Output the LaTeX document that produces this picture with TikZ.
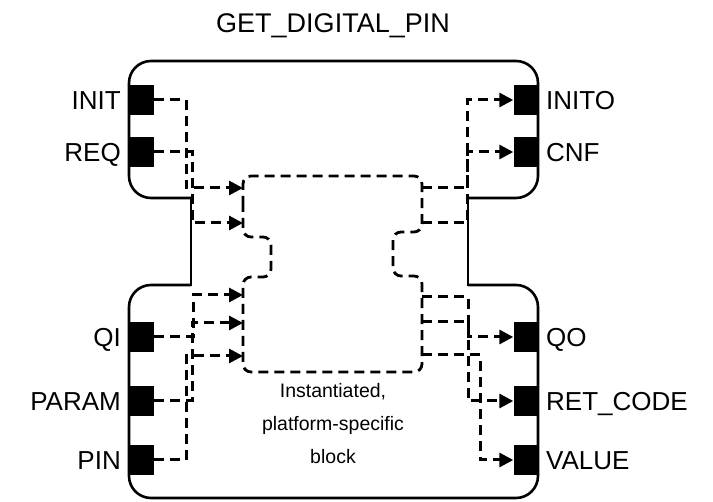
\documentclass[tikz,border=0pt]{standalone}
\usepackage{fontspec}
\setmainfont{Liberation Sans}
\usetikzlibrary{arrows.meta}
\begin{document}
\begin{tikzpicture}[x=1pt,y=-1pt,
  frame/.style={line width=2.6pt,rounded corners=22pt},
  portbox/.style={fill=black,draw=none,minimum width=24pt,minimum height=30pt,inner sep=0pt},
  lbl/.style={font=\fontsize{26}{30}\selectfont,inner sep=0pt},
  sig/.style={line width=3pt,dash pattern=on 10pt off 6pt},
  sigarrow/.style={sig,-{Triangle[length=14pt,width=14pt]}},
  inner/.style={line width=2.8pt,dash pattern=on 10pt off 6pt,rounded corners=8pt},
]
\useasboundingbox (0,0) rectangle (713,502);

% title
\node[lbl,font=\fontsize{27}{30}\selectfont,anchor=base] (title) at (333,33) {GET\_DIGITAL\_PIN};

% function block outline: upper and lower parts joined by a neck
\draw[frame] (191,198) -- (129,198) -- (129,61) -- (538,61) -- (538,198) -- (468,198);
\draw[frame] (191,285) -- (129,285) -- (129,498) -- (538,498) -- (538,285) -- (468,285);
\draw[line width=2.6pt] (191,196.7) -- (191,286.3);
\draw[line width=2.6pt] (468,196.7) -- (468,286.3);

% input ports
\node[portbox] (pINIT)  at (142,100) {};
\node[portbox] (pREQ)   at (142,152) {};
\node[portbox] (pQI)    at (142,337) {};
\node[portbox] (pPARAM) at (142,401) {};
\node[portbox] (pPIN)   at (142,460) {};
% output ports
\node[portbox] (pINITO) at (525.5,100) {};
\node[portbox] (pCNF)   at (525.5,152) {};
\node[portbox] (pQO)    at (525.5,337) {};
\node[portbox] (pRET)   at (525.5,401) {};
\node[portbox] (pVALUE) at (525.5,460) {};

% port labels
\node[lbl,anchor=base east] (lINIT)  at (121,110) {INIT};
\node[lbl,anchor=base east] (lREQ)   at (121,162) {REQ};
\node[lbl,anchor=base east] (lQI)    at (121,347) {QI};
\node[lbl,anchor=base east] (lPARAM) at (121,411) {PARAM};
\node[lbl,anchor=base east] (lPIN)   at (121,470) {PIN};
\node[lbl,anchor=base west] (lINITO) at (546,110) {INITO};
\node[lbl,anchor=base west] (lCNF)   at (546,162) {CNF};
\node[lbl,anchor=base west] (lQO)    at (546,347) {QO};
\node[lbl,anchor=base west] (lRET)   at (546,411) {RET\_CODE};
\node[lbl,anchor=base west] (lVALUE) at (546,470) {VALUE};

% inner platform-specific block
\draw[inner] (243,206) -- (243,176) -- (422,176) -- (422,232) -- (393,232) -- (393,276)
  -- (422,276) -- (422,372) -- (243,372) -- (243,277) -- (271,277) -- (271,237)
  -- (243,237) -- (243,200);
\node[font=\fontsize{19.5}{33}\selectfont,align=center] (inst) at (333,424)
  {Instantiated,\\platform-specific\\block};

% connection points on the inner block
\coordinate (bi1) at (243,188);
\coordinate (bi2) at (243,223);
\coordinate (bi3) at (243,295);
\coordinate (bi4) at (243,323);
\coordinate (bi5) at (243,356);
\coordinate (bo1) at (422,188);
\coordinate (bo2) at (422,223);
\coordinate (bo3) at (422,297);
\coordinate (bo4) at (422,322);
\coordinate (bo5) at (422,355);

% inputs into the block
\draw[sigarrow] (pINIT.east)  -- (186,100) -- (186,188) -- (bi1);
\draw[sigarrow] (pREQ.east)   -- (192,152) -- (192,223) -- (bi2);
\draw[sigarrow] (pQI.east)    -- (193,337) -- (193,295) -- (bi3);
\draw[sigarrow] (pPARAM.east) -- (192,401) -- (192,323) -- (bi4);
\draw[sigarrow] (pPIN.east)   -- (186,460) -- (186,356) -- (bi5);

% outputs from the block
\draw[sigarrow] (bo1) -- (467,188) -- (467,100) -- (pINITO.west);
\draw[sigarrow] (bo2) -- (467,223) -- (467,152) -- (pCNF.west);
\draw[sigarrow] (bo3) -- (468,297) -- (468,337) -- (pQO.west);
\draw[sigarrow] (bo4) -- (468,322) -- (468,401) -- (pRET.west);
\draw[sigarrow] (bo5) -- (480,355) -- (480,460) -- (pVALUE.west);
\end{tikzpicture}
\end{document}
